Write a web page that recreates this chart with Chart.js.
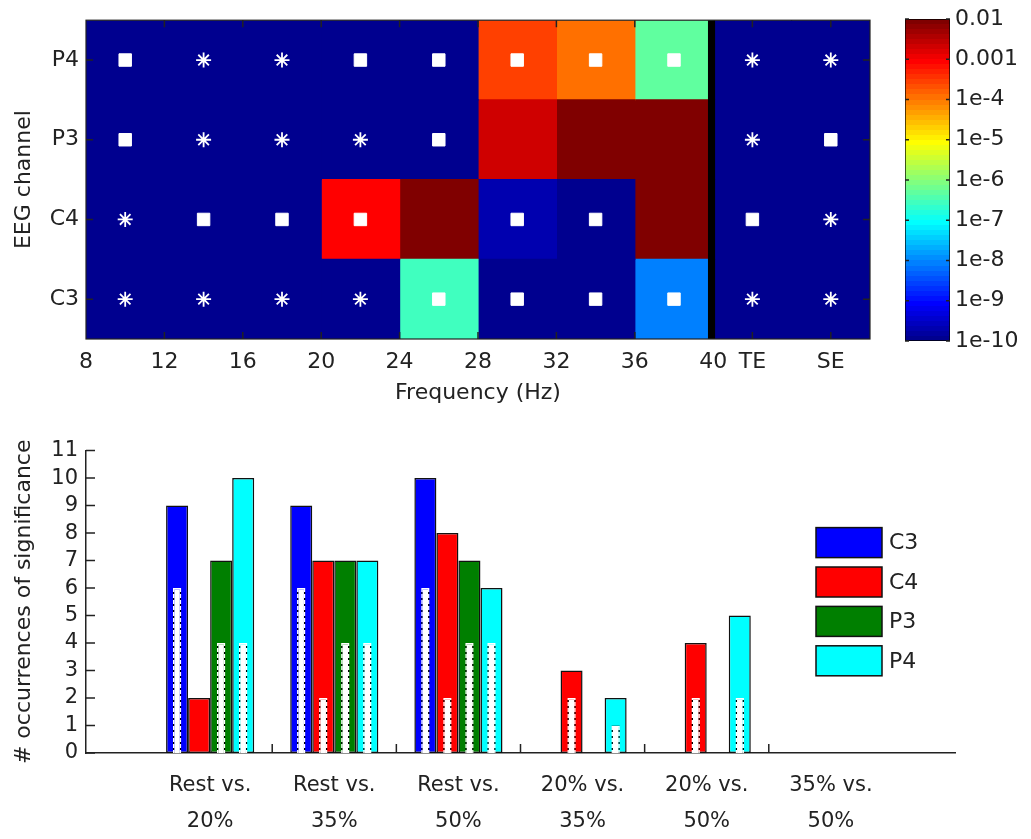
<!DOCTYPE html>
<html>
<head>
<meta charset="utf-8">
<script src="https://cdn.jsdelivr.net/npm/chart.js@4.4.1/dist/chart.umd.min.js"></script>
<style>
  html, body { margin: 0; padding: 0; background: #fff; }
  body { width: 1031px; height: 839px; position: relative; overflow: hidden; }
  canvas { position: absolute; }
</style>
</head>
<body>
<canvas id="heat" width="880" height="420" style="left:0;top:0"></canvas>
<canvas id="cbar" width="136" height="362" style="left:895px;top:0"></canvas>
<canvas id="bars" width="1031" height="409" style="left:0;top:430px"></canvas>
<script>
// ---- heatmap data ----
const channels = ['P4', 'P3', 'C4', 'C3'];
const binStart = [8, 12, 16, 20, 24, 28, 32, 36, 40, 44]; // last two bins are TE and SE
const binWidth = 4;
const freqTicks = [8, 12, 16, 20, 24, 28, 32, 36, 40, 42, 46];
const freqLabels = ['8', '12', '16', '20', '24', '28', '32', '36', '40', 'TE', 'SE'];

const pP4 = [1e-10, 1e-10, 1e-10, 1e-10, 1e-10, 3e-4, 1.2e-4, 4.8e-7, 1e-10, 1e-10];
const pP3 = [1e-10, 1e-10, 1e-10, 1e-10, 1e-10, 2.3e-3, 1e-2, 1e-2, 1e-10, 1e-10];
const pC4 = [1e-10, 1e-10, 1e-10, 1e-3, 1e-2, 1.8e-10, 1e-10, 1e-2, 1e-10, 1e-10];
const pC3 = [1e-10, 1e-10, 1e-10, 1e-10, 2.7e-7, 1e-10, 1e-10, 8e-9, 1e-10, 1e-10];

// markers: 's' square, '*' asterisk, '' none
const mP4 = ['s', '*', '*', 's', 's', 's', 's', 's', '*', '*'];
const mP3 = ['s', '*', '*', '*', 's', '', '', '', '*', 's'];
const mC4 = ['*', 's', 's', 's', '', 's', 's', '', 's', '*'];
const mC3 = ['*', '*', '*', '*', 's', 's', 's', 's', '*', '*'];

const separatorAt = [39.75, 40.08];

// ---- colorbar ----
const cbMin = 1e-10;
const cbMax = 1e-2;
const cbTicks = [1e-10, 1e-9, 1e-8, 1e-7, 1e-6, 1e-5, 1e-4, 1e-3, 1e-2];
const cbLabels = ['1e-10', '1e-9', '1e-8', '1e-7', '1e-6', '1e-5', '1e-4', '0.001', '0.01'];

// ---- bar chart data ----
const groups = [['Rest vs.', '20%'], ['Rest vs.', '35%'], ['Rest vs.', '50%'],
                ['20% vs.', '35%'], ['20% vs.', '50%'], ['35% vs.', '50%']];
const seriesNames = ['C3', 'C4', 'P3', 'P4'];
const nC3 = [9, 9, 10, 0, 0, 0];
const nC4 = [2, 7, 8, 3, 4, 0];
const nP3 = [7, 7, 7, 0, 0, 0];
const nP4 = [10, 7, 6, 2, 5, 0];
// inner (dotted) bars
const sC3 = [6, 6, 6, 0, 0, 0];
const sC4 = [0, 2, 2, 2, 2, 0];
const sP3 = [4, 4, 4, 0, 0, 0];
const sP4 = [4, 4, 4, 1, 2, 0];
const yTicks = [0, 1, 2, 3, 4, 5, 6, 7, 8, 9, 10, 11];

const seriesColors = ['#0000FF', '#FF0000', '#007F00', '#00FFFF'];
const ink = '#222';

Chart.defaults.font.family = '"DejaVu Sans", sans-serif';
Chart.defaults.color = ink;

// jet(64) colormap like matlab
function jet(t) {
  t = Math.min(1, Math.max(0, t));
  const x = (Math.round(t * 63) + 1) / 64;
  const c = v => Math.round(255 * Math.min(1, Math.max(0, 1.5 - Math.abs(4 * x - v))));
  return 'rgb(' + c(3) + ',' + c(2) + ',' + c(1) + ')';
}
function pColor(p) {
  const lo = Math.log10(cbMin), hi = Math.log10(cbMax);
  return jet((Math.log10(p) - lo) / (hi - lo));
}

// tick marks drawn inside the plot area
const innerTicks = {
  id: 'innerTicks',
  afterDatasetsDraw(chart, args, o) {
    const { ctx, chartArea: a, scales } = chart;
    ctx.save();
    ctx.strokeStyle = o.color || ink;
    ctx.lineWidth = o.width || 1.5;
    ctx.beginPath();
    (o.x || []).forEach(v => {
      const p = scales.x.getPixelForValue(v);
      ctx.moveTo(p, a.bottom); ctx.lineTo(p, a.bottom - o.len);
      if (o.both) { ctx.moveTo(p, a.top); ctx.lineTo(p, a.top + o.len); }
    });
    (o.y || []).forEach(v => {
      const p = scales.y.getPixelForValue(v);
      ctx.moveTo(a.left, p); ctx.lineTo(a.left + o.len, p);
      if (o.both) { ctx.moveTo(a.right, p); ctx.lineTo(a.right - o.len, p); }
    });
    ctx.stroke();
    if (o.box) {
      ctx.lineWidth = 1.2;
      ctx.strokeRect(a.left, a.top, a.width, a.height);
    }
    ctx.restore();
  }
};

// ---------- heatmap ----------
const pRows = [pP4, pP3, pC4, pC3];
const mRows = [mP4, mP3, mC4, mC3];

const cellSets = binStart.map((x0, j) => ({
  type: 'bar',
  data: channels.map(() => [x0, x0 + binWidth]),
  backgroundColor: pRows.map(r => pColor(r[j])),
  borderWidth: 0,
  inflateAmount: 0.6,
  barPercentage: 1,
  categoryPercentage: 1,
  grouped: false,
  order: 2
}));

function markerPoints(kind) {
  const pts = [];
  mRows.forEach((row, i) => row.forEach((m, j) => {
    if (m === kind) pts.push({ x: binStart[j] + binWidth / 2, y: channels[i] });
  }));
  return pts;
}

new Chart(document.getElementById('heat'), {
  type: 'bar',
  data: {
    labels: channels,
    datasets: [
      ...cellSets,
      {
        type: 'bar',
        data: channels.map(() => separatorAt),
        backgroundColor: '#000',
        borderWidth: 0,
        barPercentage: 1,
        categoryPercentage: 1,
        grouped: false,
        order: 1
      },
      {
        type: 'scatter',
        indexAxis: 'x',
        xAxisID: 'x', yAxisID: 'y',
        data: markerPoints('s'),
        pointStyle: 'rect',
        pointRadius: 8.8,
        backgroundColor: '#fff',
        borderColor: '#fff',
        borderWidth: 1,
        order: 0
      },
      {
        type: 'scatter',
        indexAxis: 'x',
        xAxisID: 'x', yAxisID: 'y',
        data: markerPoints('*'),
        pointStyle: 'star',
        pointRadius: 7.5,
        backgroundColor: '#fff',
        borderColor: '#fff',
        borderWidth: 1.8,
        order: 0
      }
    ]
  },
  options: {
    indexAxis: 'y',
    responsive: false,
    animation: false,
    layout: { padding: { top: 19, right: 10, left: 0, bottom: 0 } },
    plugins: {
      legend: { display: false },
      tooltip: { enabled: false },
      innerTicks: { x: [12, 16, 20, 24, 28, 32, 36, 42, 46], y: [0, 1, 2, 3], len: 7, both: true, box: true }
    },
    scales: {
      x: {
        type: 'linear', min: 8, max: 48,
        afterBuildTicks: s => { s.ticks = freqTicks.map(v => ({ value: v })); },
        afterFit: s => { s.height = 81; },
        ticks: {
          autoSkip: false, maxRotation: 0, padding: 10, font: { size: 22 },
          callback: v => freqLabels[freqTicks.indexOf(v)]
        },
        grid: { display: false, drawTicks: false },
        border: { display: false },
        title: { display: true, text: 'Frequency (Hz)', font: { size: 22 }, padding: { top: 0, bottom: 14 } }
      },
      y: {
        type: 'category',
        offset: true,
        afterFit: s => { s.width = 86; },
        ticks: { padding: 7, font: { size: 22 } },
        grid: { display: false, drawTicks: false },
        border: { display: false },
        title: { display: true, text: 'EEG channel', font: { size: 22 }, padding: { top: 11, bottom: 0 } }
      }
    }
  },
  plugins: [innerTicks]
});

// ---------- colorbar ----------
function jetGradient(c) {
  const area = c.chart.chartArea;
  if (!area) return jet(0);
  const g = c.chart.ctx.createLinearGradient(0, area.bottom, 0, area.top);
  for (let k = 0; k < 64; k++) {
    g.addColorStop(k / 64, jet(k / 63));
    g.addColorStop((k + 1) / 64, jet(k / 63));
  }
  return g;
}

new Chart(document.getElementById('cbar'), {
  type: 'bar',
  data: {
    labels: ['p'],
    datasets: [{
      data: [[cbMin, cbMax]],
      backgroundColor: jetGradient,
      borderColor: '#000',
      borderWidth: 1,
      borderSkipped: false,
      barPercentage: 1,
      categoryPercentage: 1
    }]
  },
  options: {
    responsive: false,
    animation: false,
    layout: { padding: { top: 19, left: 10, bottom: 21, right: 0 } },
    plugins: {
      legend: { display: false },
      tooltip: { enabled: false },
      innerTicks: { y: cbTicks, len: 4, both: true }
    },
    scales: {
      x: { display: false },
      y: {
        type: 'logarithmic', position: 'right', min: cbMin, max: cbMax,
        afterBuildTicks: s => { s.ticks = cbTicks.map(v => ({ value: v })); },
        afterFit: s => { s.width = 81; },
        ticks: { padding: 5, font: { size: 22 }, callback: (v, i) => cbLabels[i] },
        grid: { display: false, drawTicks: false },
        border: { display: false }
      }
    }
  },
  plugins: [innerTicks]
});

// ---------- bar chart ----------
function dotPattern() {
  const c = document.createElement('canvas');
  c.width = 1; c.height = 6;
  const g = c.getContext('2d');
  g.fillStyle = '#fff'; g.fillRect(0, 0, 1, 6);
  g.fillStyle = '#000'; g.fillRect(0, 0, 1, 2);
  return g.createPattern(c, 'repeat');
}
const dots = dotPattern();

function pts(vals) {
  return vals.map((v, i) => ({ x: i + 1, y: v > 0 ? v : null }));
}

const totals = [nC3, nC4, nP3, nP4];
const inners = [sC3, sC4, sP3, sP4];

// outer and inner bar of a channel share one slot through "stack"
const outerSets = seriesNames.map((name, k) => ({
  label: name,
  stack: name,
  outer: true,
  data: pts(totals[k]),
  backgroundColor: seriesColors[k],
  borderColor: '#111',
  borderWidth: 1.5,
  borderSkipped: false,
  barPercentage: 1,
  categoryPercentage: 0.71,
  order: 1
}));
const innerSets = seriesNames.map((name, k) => ({
  label: name + ' inner',
  stack: name,
  data: pts(inners[k]),
  backgroundColor: '#fff',
  borderColor: dots,
  borderWidth: 1.5,
  borderSkipped: 'bottom',
  barPercentage: 0.38,
  categoryPercentage: 0.71,
  order: 0
}));

const boxLegend = {
  id: 'boxLegend',
  afterDraw(chart, args, o) {
    const { ctx, chartArea: a } = chart;
    const items = chart.data.datasets.filter(d => d.outer);
    ctx.save();
    items.forEach((d, i) => {
      const x = a.right - o.dx, y = a.top + o.dy + i * o.step;
      ctx.fillStyle = d.backgroundColor;
      ctx.fillRect(x, y, o.w, o.h);
      ctx.strokeStyle = '#111';
      ctx.lineWidth = 1.5;
      ctx.strokeRect(x, y, o.w, o.h);
      ctx.fillStyle = ink;
      ctx.font = '22px "DejaVu Sans"';
      ctx.textBaseline = 'middle';
      ctx.fillText(d.label, x + o.w + 7, y + o.h / 2 + 1);
    });
    ctx.restore();
  }
};

new Chart(document.getElementById('bars'), {
  type: 'bar',
  data: { datasets: [...outerSets, ...innerSets] },
  options: {
    responsive: false,
    animation: false,
    layout: { padding: { top: 20, right: 76, left: 0, bottom: 0 } },
    plugins: {
      legend: { display: false },
      tooltip: { enabled: false },
      innerTicks: { x: [1.5, 2.5, 3.5, 4.5, 5.5], y: yTicks, len: 9, both: false },
      boxLegend: { dx: 139, dy: 77, step: 39.4, w: 66, h: 30 }
    },
    scales: {
      x: {
        type: 'linear', min: 0, max: 7, offset: false,
        afterBuildTicks: s => { s.ticks = groups.map((g, i) => ({ value: i + 1 })); },
        afterFit: s => { s.height = 86; },
        ticks: {
          autoSkip: false, maxRotation: 0, padding: 14,
          font: { size: 21, lineHeight: 1.72 },
          callback: v => groups[v - 1]
        },
        grid: { display: false, drawTicks: false, offset: false },
        border: { display: true, color: ink, width: 1.5 }
      },
      y: {
        min: 0, max: 11, stacked: false,
        afterBuildTicks: s => { s.ticks = yTicks.map(v => ({ value: v })); },
        afterFit: s => { s.width = 86; },
        ticks: { autoSkip: false, padding: 8, font: { size: 21 } },
        grid: { display: false, drawTicks: false },
        border: { display: true, color: ink, width: 1.5 },
        title: { display: true, text: '# occurrences of significance', font: { size: 22 }, padding: { top: 11, bottom: 0 } }
      }
    }
  },
  plugins: [innerTicks, boxLegend]
});
</script>
</body>
</html>
